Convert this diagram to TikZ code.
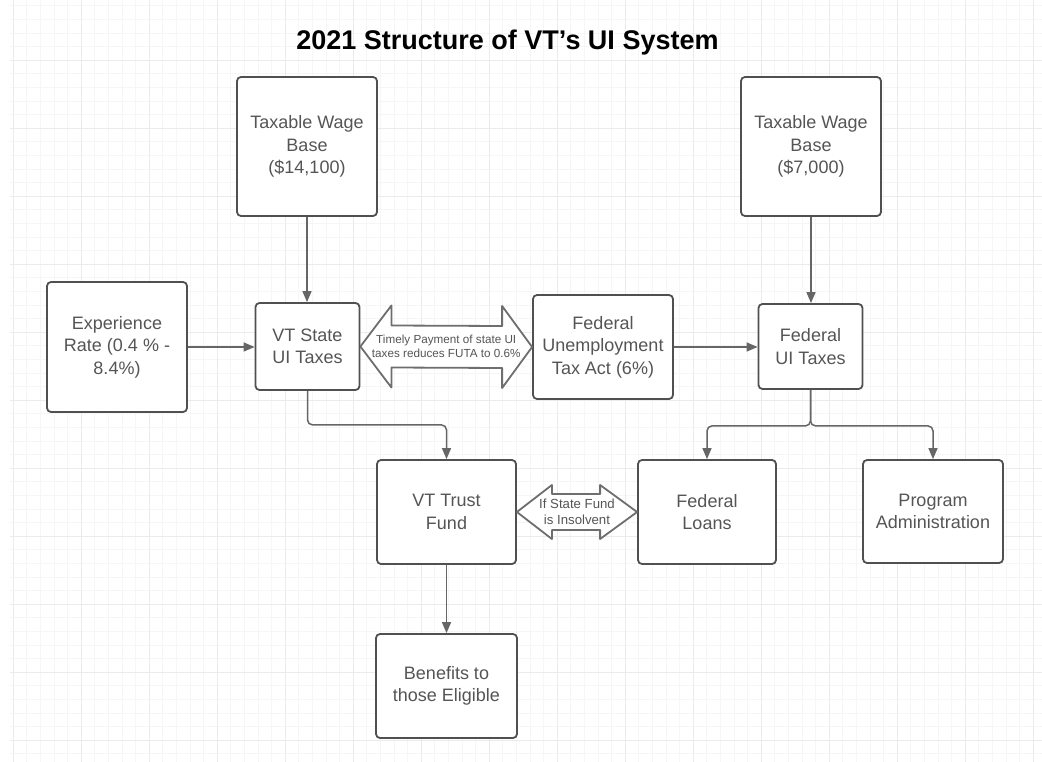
\documentclass[tikz,border=0pt]{standalone}
\usepackage{fontspec}
\setmainfont{Liberation Sans}
\usetikzlibrary{arrows.meta,calc}
\definecolor{boxline}{HTML}{505050}
\definecolor{txtgray}{HTML}{555555}
\definecolor{conngray}{HTML}{666666}
\definecolor{arrgray}{HTML}{6E6E6E}
\begin{document}
\begin{tikzpicture}[x=1pt,y=-1pt,
  box/.style={draw=boxline, line width=1.8pt, rounded corners=4pt, fill=white,
    text=txtgray, align=center, font=\fontsize{18}{22.5}\selectfont, inner sep=2pt},
  conn/.style={draw=conngray, line width=1.5pt, rounded corners=5pt,
    -{Triangle[length=11pt,width=9pt]}},
  dbl/.style={draw=arrgray, line width=1.8pt, fill=white, line join=round},
  smalltxt/.style={text=txtgray, align=center, inner sep=0pt}]
\fill[white] (0,0) rectangle (1042,762);
\useasboundingbox (0,0) rectangle (1042,762);
% background grid
\begin{scope}[shift={(13,60)}]
  \draw[black!3.5, line width=0.5pt, step=13.6pt] (-3,-60) grid (1029,702);
  \draw[black!8, line width=0.7pt, step=68pt] (-3,-60) grid (1029,702);
\end{scope}
% title
\node[font=\bfseries\fontsize{27}{31}\selectfont, text=black] (title) at (507.5,43) {2021 Structure of VT's UI System};
% boxes
\node[box, minimum width=140pt, minimum height=139pt] (twbL) at (307,146.5) {Taxable Wage\\Base\\(\$14,100)};
\node[box, minimum width=140pt, minimum height=139pt] (twbR) at (811,146.5) {Taxable Wage\\Base\\(\$7,000)};
\node[box, minimum width=140pt, minimum height=130pt] (exp) at (117,347) {Experience\\Rate (0.4 \% -\\8.4\%)};
\node[box, minimum width=104pt, minimum height=87pt] (vts) at (307.5,346.5) {VT State\\UI Taxes};
\node[box, minimum width=140pt, minimum height=104pt] (futa) at (603,347) {Federal\\Unemployment\\Tax Act (6\%)};
\node[box, minimum width=104pt, minimum height=85pt] (fui) at (810.5,346.5) {Federal\\UI Taxes};
\node[box, minimum width=139pt, minimum height=104pt] (vtf) at (446.5,512) {VT Trust\\Fund};
\node[box, minimum width=138pt, minimum height=104pt] (fl) at (707,512) {Federal\\Loans};
\node[box, minimum width=140pt, minimum height=103pt] (pa) at (933,511.5) {Program\\Administration};
\node[box, minimum width=141pt, minimum height=104pt] (ben) at (446.5,686) {Benefits to\\those Eligible};
% connectors
\draw[conn] (twbL.south) -- (twbL.south |- vts.north);
\draw[conn] (twbR.south) -- (twbR.south |- fui.north);
\draw[conn] (exp.east) -- (exp.east -| vts.west);
\draw[conn] (futa.east) -- (futa.east -| fui.west);
\draw[conn] (vts.south) -- ++(0,34) -| (vtf.north);
\draw[conn] (fui.south) -- ++(0,36) -| (fl.north);
\draw[conn] (fui.south) -- ++(0,36) -| (pa.north);
\draw[conn] (vtf.south) -- (ben.north);
% double arrows
\draw[dbl] (vts.east) -- ++(31,-41) -- ++(0,20) -- ($(futa.west)+(-30,-21)$) -- ++(0,-20)
  -- (futa.west) -- ++(-30,41) -- ++(0,-20) -- ($(vts.east)+(31,21)$) -- ++(0,20) -- cycle;
\node[smalltxt, font=\fontsize{11.7}{14}\selectfont] (t1) at ($(vts.east)!0.5!(futa.west)$)
  {Timely Payment of state UI\\taxes reduces FUTA to 0.6\%};
\draw[dbl] (vtf.east) -- ++(35,-27) -- ++(0,9) -- ($(fl.west)+(-37,-18)$) -- ++(0,-9)
  -- (fl.west) -- ++(-37,27) -- ++(0,-9) -- ($(vtf.east)+(35,18)$) -- ++(0,9) -- cycle;
\node[smalltxt, font=\fontsize{13.2}{16}\selectfont] (t2) at ($(vtf.east)!0.5!(fl.west)$)
  {If State Fund\\is Insolvent};
\end{tikzpicture}
\end{document}
